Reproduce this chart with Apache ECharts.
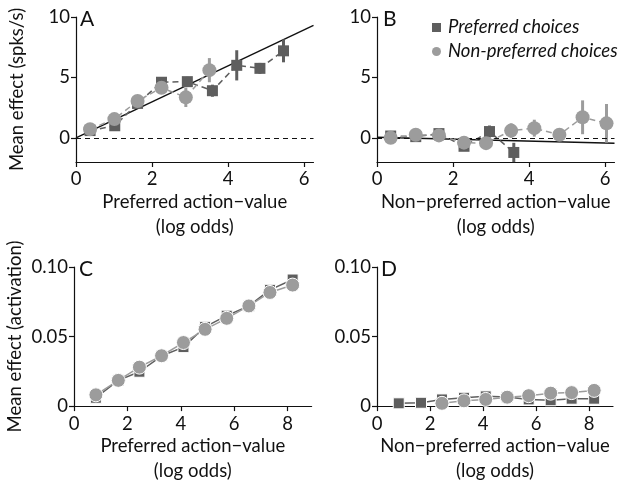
<!DOCTYPE html>
<html><head><meta charset="utf-8">
<script src="https://cdn.jsdelivr.net/npm/echarts@6/dist/echarts.min.js"></script>
<style>html,body{margin:0;padding:0;background:#fff}#c{width:618px;height:485px}</style>
</head><body><div id="c"></div>
<script>
// Panel A: Preferred action-value (log odds) vs mean effect (spks/s)
const xA_sq = [0.37, 1.02, 1.62, 2.25, 2.93, 3.59, 4.23, 4.84, 5.46];
const yA_sq = [0.6, 1.0, 2.85, 4.6, 4.65, 3.9, 6.0, 5.75, 7.2];
const eA_sq = [0.15, 0.2, 0.2, 0.3, 0.4, 0.5, 1.25, 0.45, 0.95];
const xA_ci = [0.37, 1.01, 1.62, 2.25, 2.89, 3.51];
const yA_ci = [0.72, 1.55, 3.05, 4.15, 3.35, 5.6];
const eA_ci = [0.15, 0.2, 0.2, 0.3, 0.8, 1.0];
const fitA = [[0, 0], [6.25, 9.3]];
// Panel B: Non-preferred action-value
const xB_sq = [0.36, 1.02, 1.63, 2.29, 2.96, 3.6];
const yB_sq = [0.15, 0.1, 0.35, -0.7, 0.52, -1.21];
const eB_sq = [0.1, 0.1, 0.1, 0.2, 0.5, 0.8];
const xB_ci = [0.36, 1.02, 1.63, 2.29, 2.87, 3.53, 4.14, 4.8, 5.41, 6.04];
const yB_ci = [0, 0.25, 0.2, -0.4, -0.44, 0.6, 0.8, 0.25, 1.7, 1.2];
const eB_ci = [0.1, 0.1, 0.15, 0.2, 0.2, 0.6, 0.7, 0.5, 1.4, 1.6];
const fitB = [[0, 0.05], [6.25, -0.45]];
// Panel C/D: model activation
const xCD = [0.82, 1.66, 2.45, 3.28, 4.1, 4.91, 5.72, 6.55, 7.34, 8.19];
const yC_sq = [0.006, 0.0185, 0.0247, 0.036, 0.0424, 0.057, 0.065, 0.072, 0.0836, 0.091];
const yC_ci = [0.0081, 0.0185, 0.028, 0.0362, 0.0457, 0.0552, 0.0631, 0.072, 0.0817, 0.087];
const yD_sq = [0.002, 0.0024, 0.0048, 0.006, 0.007, 0.0065, 0.0048, 0.0042, 0.0053, 0.0053];
const yD_ci = [null, null, 0.002, 0.0038, 0.0048, 0.0064, 0.0075, 0.0093, 0.0097, 0.0113];
// Tick labels
const ticksTopY = [0, 5, 10];
const ticksTopX = [0, 2, 4, 6];
const ticksBotY = [0, 0.05, 0.1];
const ticksBotX = [0, 2, 4, 6, 8];
const panelLetters = ['A', 'B', 'C', 'D'];
const legendNames = ['Preferred choices', 'Non-preferred choices'];

const SQ = '#5e5e5e', CI = '#9c9c9c';
const FONT = 'Lato';
const FS = 18.5;
const pairs = (xs, ys) => xs.map((v, i) => [v, ys[i]]).filter(p => p[1] != null);
const errs = (xs, ys, es) => xs.map((v, i) => [v, ys[i] - es[i], ys[i] + es[i]]);

function errSeries(idx, data, color) {
  return {
    type: 'custom', xAxisIndex: idx, yAxisIndex: idx, data: data, z: 3, silent: true,
    encode: { x: 0, y: [1, 2] },
    renderItem: function (params, api) {
      const p1 = api.coord([api.value(0), api.value(1)]);
      const p2 = api.coord([api.value(0), api.value(2)]);
      return { type: 'line', shape: { x1: p1[0], y1: p1[1], x2: p2[0], y2: p2[1] }, style: { stroke: color, lineWidth: 3 } };
    }
  };
}
function ptSeries(idx, name, data, color, sym, size, dashed, z) {
  return {
    type: 'line', name: name, xAxisIndex: idx, yAxisIndex: idx, data: data, z: z,
    symbol: sym, symbolSize: size, showSymbol: true, silent: true,
    itemStyle: { color: color, borderColor: dashed ? color : '#ffffff', borderWidth: dashed ? 0 : 1 },
    lineStyle: { color: color, width: 1.5, type: dashed ? [6, 4] : 'solid' },
    emphasis: { disabled: true }, animation: false
  };
}
function fitSeries(idx, data) {
  return {
    type: 'line', xAxisIndex: idx, yAxisIndex: idx, data: data, symbol: 'none', z: 2, silent: true,
    lineStyle: { color: '#111', width: 1.4 }, animation: false,
    markLine: { silent: true, symbol: 'none', label: { show: false },
      lineStyle: { color: '#111', type: [5, 4], width: 1 }, data: [{ yAxis: 0 }] }
  };
}
const axisCommon = {
  axisLine: { show: true, onZero: false, lineStyle: { color: '#111', width: 1.2 } },
  axisTick: { show: true, inside: false, length: 5, lineStyle: { color: '#111', width: 1.2 } },
  splitLine: { show: false },
  axisLabel: { color: '#111', fontSize: FS, fontFamily: FONT },
  nameTextStyle: { color: '#111', fontSize: FS, fontFamily: FONT, lineHeight: 25 }
};
function xAx(idx, max, ticks, name) {
  return Object.assign({}, axisCommon, {
    type: 'value', gridIndex: idx, min: 0, max: max,
    axisTick: Object.assign({}, axisCommon.axisTick, { customValues: ticks }),
    axisLabel: Object.assign({}, axisCommon.axisLabel, { customValues: ticks, margin: 8 }),
    name: name, nameLocation: 'middle', nameGap: 27
  });
}
function yAx(idx, min, max, ticks, name, fmt) {
  return Object.assign({}, axisCommon, {
    type: 'value', gridIndex: idx, min: min, max: max,
    axisTick: Object.assign({}, axisCommon.axisTick, { customValues: ticks }),
    axisLabel: Object.assign({}, axisCommon.axisLabel, { customValues: ticks, margin: 6, formatter: fmt }),
    name: name, nameLocation: 'middle', nameGap: 46
  });
}
const fmtBot = v => (v === 0 ? '0' : v.toFixed(2));

const chart = echarts.init(document.getElementById('c'), null, { renderer: 'canvas' });
chart.setOption({
  animation: false,
  backgroundColor: '#fff',
  title: [
    { text: panelLetters[0], left: 80, top: 9 },
    { text: panelLetters[1], left: 383, top: 9 },
    { text: panelLetters[2], left: 79, top: 259 },
    { text: panelLetters[3], left: 381, top: 259 }
  ].map(t => Object.assign(t, { textStyle: { fontSize: 21, fontWeight: 'normal', color: '#111', fontFamily: FONT }, padding: 0 })),
  legend: {
    left: 427, top: 13, orient: 'vertical', itemGap: 5, itemWidth: 9, itemHeight: 9,
    selectedMode: false,
    textStyle: { fontSize: 18.5, fontStyle: 'italic', color: '#111', fontFamily: FONT, padding: [0, 0, 0, 2] },
    data: [{ name: legendNames[0], icon: 'rect' }, { name: legendNames[1], icon: 'circle' }]
  },
  grid: [
    { left: 76, top: 17, width: 237.5, height: 145 },
    { left: 377, top: 17, width: 237.5, height: 145 },
    { left: 74, top: 267, width: 237.6, height: 151 },
    { left: 377, top: 267, width: 236, height: 151 }
  ],
  xAxis: [
    xAx(0, 6.25, ticksTopX, 'Preferred action\u2212value\n(log odds)'),
    xAx(1, 6.25, ticksTopX, 'Non\u2212preferred action\u2212value\n(log odds)'),
    xAx(2, 8.9, ticksBotX, 'Preferred action\u2212value\n(log odds)'),
    xAx(3, 8.9, ticksBotX, 'Non\u2212preferred action\u2212value\n(log odds)')
  ],
  yAxis: [
    yAx(0, -2, 10, ticksTopY, 'Mean effect (spks/s)'),
    yAx(1, -2, 10, ticksTopY, ''),
    yAx(2, 0, 0.1, ticksBotY, 'Mean effect (activation)', fmtBot),
    yAx(3, 0, 0.1, ticksBotY, '', fmtBot)
  ],
  series: [
    fitSeries(0, fitA),
    errSeries(0, errs(xA_sq, yA_sq, eA_sq), SQ),
    errSeries(0, errs(xA_ci, yA_ci, eA_ci), CI),
    ptSeries(0, legendNames[0], pairs(xA_sq, yA_sq), SQ, 'rect', 11, true, 4),
    ptSeries(0, legendNames[1], pairs(xA_ci, yA_ci), CI, 'circle', 14, true, 5),
    fitSeries(1, fitB),
    errSeries(1, errs(xB_sq, yB_sq, eB_sq), SQ),
    errSeries(1, errs(xB_ci, yB_ci, eB_ci), CI),
    ptSeries(1, legendNames[0], pairs(xB_sq, yB_sq), SQ, 'rect', 11, true, 4),
    ptSeries(1, legendNames[1], pairs(xB_ci, yB_ci), CI, 'circle', 14, true, 5),
    ptSeries(2, legendNames[0], pairs(xCD, yC_sq), SQ, 'rect', 11, false, 4),
    ptSeries(2, legendNames[1], pairs(xCD, yC_ci), CI, 'circle', 14, false, 5),
    ptSeries(3, legendNames[0], pairs(xCD, yD_sq), SQ, 'rect', 11, false, 4),
    ptSeries(3, legendNames[1], pairs(xCD, yD_ci), CI, 'circle', 14, false, 5)
  ]
});
</script></body></html>
